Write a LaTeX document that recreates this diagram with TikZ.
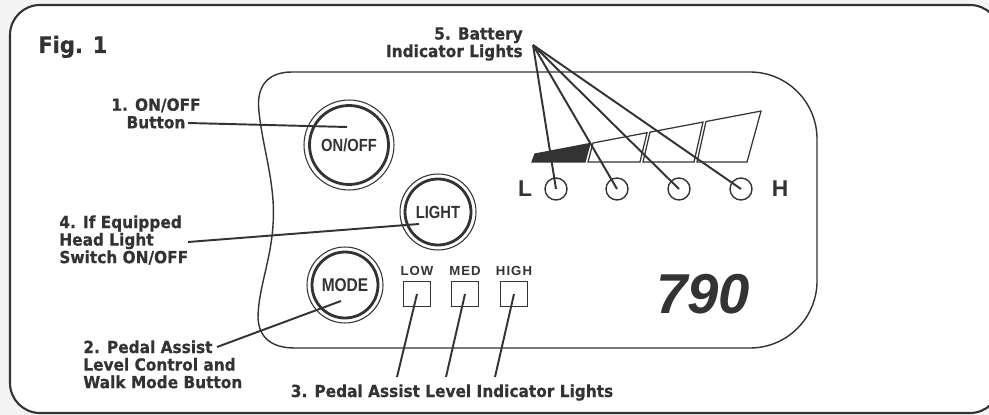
\documentclass[tikz,border=0pt]{standalone}
\usepackage{fontspec}
\usepackage{tikz}
\usetikzlibrary{positioning,calc}
\newfontfamily\lblfont{DejaVu Sans}[FakeStretch=0.92,BoldFeatures={FakeBold=0.5}]
\newfontfamily\arialfont{Liberation Sans}
\newfontfamily\btnfont{Liberation Sans}[FakeStretch=0.84]
\newfontfamily\tagfont{Liberation Sans}[LetterSpace=8]
\definecolor{lcddark}{HTML}{333333}
\definecolor{lcdback}{HTML}{F4F4F4}
\tikzset{
  frame/.style={draw=lcddark,fill=white,line width=1.2pt,rounded corners=0.6cm},
  panel/.style={draw=lcddark,line width=0.8pt},
  btnring/.style={circle,draw=lcddark,line width=0.6pt,inner sep=0pt,text=lcddark,font=\btnfont\bfseries\fontsize{10}{10}\selectfont},
  btncore/.style={draw=lcddark,line width=1.6pt},
  lamp/.style={circle,draw=lcddark,line width=0.8pt,minimum size=0.44cm,inner sep=0pt},
  lvlbox/.style={rectangle,draw=lcddark,line width=0.8pt,minimum width=0.54cm,minimum height=0.5cm,inner sep=0pt},
  lvltxt/.style={inner sep=0pt,text=lcddark,font=\tagfont\bfseries\fontsize{7.5}{7.5}\selectfont},
  callout/.style={inner sep=0pt,text=lcddark,font=\lblfont\bfseries\fontsize{9.5}{10}\selectfont},
  bigmark/.style={inner sep=0pt,text=lcddark,font=\arialfont\bfseries\fontsize{13}{13}\selectfont},
  leader/.style={draw=lcddark,line width=1.1pt},
  seg/.style={draw=lcddark,line width=0.7pt,line join=miter},
}
\begin{document}
\begin{tikzpicture}[x=0.02cm,y=-0.02cm]
  \clip (0,0) rectangle (989,415);
  \fill[lcdback] (0,0) rectangle (989,415);
  \draw[frame] (10,5) rectangle (1000,413);
  \node[inner sep=0pt,anchor=base west,text=lcddark,font=\lblfont\bfseries\fontsize{13}{13}\selectfont] (figlbl) at (38,53) {Fig. 1};

  % display housing
  \draw[panel] (750,72) -- (292,72) .. controls (266,72) and (256,88) .. (259,112)
    .. controls (263,150) and (276,185) .. (273,225)
    .. controls (271,260) and (258,290) .. (258,318)
    .. controls (259,338) and (272,348) .. (295,348) -- (750,348)
    .. controls (787,348) and (817,318) .. (817,281) -- (817,139)
    .. controls (817,102) and (787,72) .. (750,72) -- cycle;

  % buttons
  \node[btnring,minimum size=1.8cm] (onoff) at (349,145) {ON/OFF};
  \draw[btncore] (onoff.center) circle (0.79cm);
  \node[btnring,minimum size=1.52cm] (light) at (438,212) {LIGHT};
  \draw[btncore] (light.center) circle (0.66cm);
  \node[btnring,minimum size=1.52cm,font=\btnfont\bfseries\fontsize{10.5}{10.5}\selectfont] (mode) at (345,285) {MODE};
  \draw[btncore] (mode.center) circle (0.66cm);

  % battery gauge
  \fill[lcddark,seg] (532,162) -- (535,154) -- (590,143.5) -- (585,162) -- cycle;
  \foreach \a/\b/\c/\d in {588/593/647/640,643/650/703/694,697/706/761/747}{
    \draw[seg] (\a,162) -- (\b,{154-0.19*(\b-535)}) -- (\c,{154-0.19*(\c-535)}) -- (\d,162) -- cycle;}
  \foreach \n/\x in {1/556,2/617,3/679,4/741}
    \node[lamp] (bat\n) at (\x,189) {};
  \node[bigmark] (lowmark) at (525,189) {L};
  \node[bigmark] (highmark) at (780,189) {H};

  % assist level lights
  \foreach \n/\t/\x in {low/LOW/417,med/MED/465,high/HIGH/514}{
    \node[lvlbox] (\n) at (\x,294) {};
    \node[lvltxt,above=3pt of \n] (\n txt) {\t};}
  \node[inner sep=0pt,text=lcddark,font=\arialfont\bfseries\itshape\fontsize{32}{32}\selectfont] (model) at (703,294) {790};

  % callouts
  \node[callout,align=center,anchor=north] (lbl1) at (156,98) {1. ON/OFF\\Button};
  \node[callout,align=left,anchor=north west] (lbl4) at (59,215) {4. If Equipped\\Head Light\\Switch ON/OFF};
  \node[callout,align=left,anchor=north west] (lbl2) at (83,340) {2. Pedal Assist\\Level Control and\\Walk Mode Button};
  \node[callout,anchor=base] (lbl3) at (452,397) {3. Pedal Assist Level Indicator Lights};
  \node[callout,align=right,anchor=north east] (lbl5) at (523,27) {5. Battery\\Indicator Lights};

  \coordinate (t1) at (188,123);
  \coordinate (t4) at (188,242);
  \coordinate (t2) at (217,347);
  \coordinate (t5) at (533,45);
  \draw[leader] (t1) -- ([shift={(-2,-18)}]onoff.center);
  \draw[leader] (t4) -- ([shift={(-19,12)}]light.center);
  \draw[leader] (t2) -- ([shift={(-4,16)}]mode.center);
  \foreach \n in {1,...,4}
    \draw[leader] (t5) -- (bat\n.center);
  \foreach \n/\x in {low/397,med/446,high/495}{
    \coordinate (t\n) at (\x,377);
    \draw[leader] (t\n) -- (\n.center);}
\end{tikzpicture}
\end{document}
